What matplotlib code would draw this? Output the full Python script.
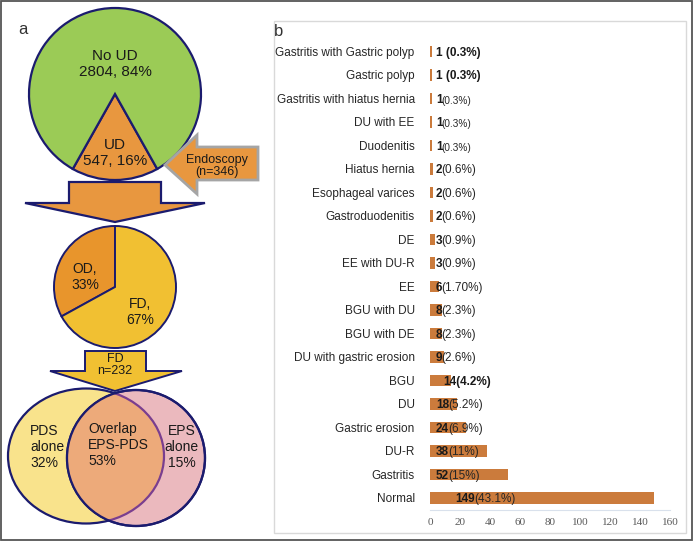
import numpy as np
import matplotlib.pyplot as plt
from matplotlib.patches import Ellipse, Polygon, Rectangle

plt.rcParams['font.family'] = ['Liberation Sans', 'DejaVu Sans']

# panel a data
ud_values = [547, 2804]          # UD, No UD
ud_text = ['UD\n547, 16%', 'No UD\n2804, 84%']
endoscopy_n = 346
od_fd = [33, 67]                 # OD, FD (%)
fd_n = 232
venn_pct = [32, 53, 15]          # PDS alone, overlap, EPS alone

# panel b data
categories = ['Gastritis with Gastric polyp', 'Gastric polyp', 'Gastritis with hiatus hernia',
              'DU with EE', 'Duodenitis', 'Hiatus hernia', 'Esophageal varices',
              'Gastroduodenitis', 'DE', 'EE with DU-R', 'EE', 'BGU with DU', 'BGU with DE',
              'DU with gastric erosion', 'BGU', 'DU', 'Gastric erosion', 'DU-R',
              'Gastritis', 'Normal']
counts = [1, 1, 1, 1, 1, 2, 2, 2, 3, 3, 6, 8, 8, 9, 14, 18, 24, 38, 52, 149]
pct_labels = [' (0.3%)', ' (0.3%)', '(0.3%)', '(0.3%)', '(0.3%)', '(0.6%)', '(0.6%)',
              '(0.6%)', '(0.9%)', '(0.9%)', '(1.70%)', '(2.3%)', '(2.3%)', '(2.6%)',
              '(4.2%)', '(5.2%)', '(6.9%)', '(11%)', '(15%)', '(43.1%)']
x_ticks = [0, 20, 40, 60, 80, 100, 120, 140, 160]

navy = '#1B1B6E'
orange = '#E8973F'
W, H = 694, 542

fig = plt.figure(figsize=(W / 100, H / 100), dpi=100)

# ---- panel a: drawn in pixel coordinates ----
ax = fig.add_axes([0, 0, 1, 1])

frac_ud = ud_values[0] / sum(ud_values)
ax.pie(ud_values, colors=[orange, '#9BCB56'], center=(115, 94), radius=86,
       startangle=90 - 180 * frac_ud, counterclock=True, frame=True,
       wedgeprops=dict(edgecolor=navy, linewidth=1.6))
ax.text(115, 64, ud_text[1], ha='center', va='center', fontsize=11, color='#1a1a1a', linespacing=1.15)
ax.text(115, 153, ud_text[0], ha='center', va='center', fontsize=11, color='#1a1a1a', linespacing=1.15)

# endoscopy arrow
ax.add_patch(Polygon([(165, 165), (197, 135), (197, 147), (258, 147), (258, 180),
                      (197, 180), (197, 194)], closed=True, facecolor=orange,
                     edgecolor='#A5A5A5', linewidth=2))
ax.text(217, 166, 'Endoscopy\n(n=%d)' % endoscopy_n, ha='center', va='center',
        fontsize=9, color='#1a1a1a', linespacing=1.1)

# big down arrow
ax.add_patch(Polygon([(69, 182), (161, 182), (161, 203), (205, 203), (115, 222),
                      (25, 203), (69, 203)], closed=True, facecolor=orange,
                     edgecolor=navy, linewidth=1.6, zorder=0.5))

# OD / FD pie
ax.pie(od_fd, colors=['#E8952C', '#F1C032'], center=(115, 287), radius=61,
       startangle=270, counterclock=False, frame=True,
       wedgeprops=dict(edgecolor=navy, linewidth=1.4))
ax.text(85, 277, 'OD,\n%d%%' % od_fd[0], ha='center', va='center', fontsize=10, color='#1a1a1a')
ax.text(140, 312, 'FD,\n%d%%' % od_fd[1], ha='center', va='center', fontsize=10, color='#1a1a1a')

# FD arrow
ax.add_patch(Polygon([(85, 351), (146, 351), (146, 371), (182, 371), (115, 391),
                      (50, 371), (85, 371)], closed=True, facecolor='#F1C032',
                     edgecolor=navy, linewidth=1.4, zorder=0.5))
ax.text(115, 365, 'FD\nn=%d' % fd_n, ha='center', va='center', fontsize=9,
        color='#1a1a1a', linespacing=1.1)

# venn
left = Ellipse((86, 456), 156, 135, facecolor='#F9E38C', edgecolor=navy, linewidth=1.6)
right = Ellipse((136, 458), 138, 136, facecolor='#EBB9BE', edgecolor=navy, linewidth=1.6)
ax.add_patch(left)
ax.add_patch(right)
overlap = Ellipse((86, 456), 156, 135, facecolor='#EDAA7A', edgecolor='#7A3E8F', linewidth=1.6)
ax.add_patch(overlap)
overlap.set_clip_path(right)
ax.add_patch(Ellipse((136, 458), 138, 136, facecolor='none', edgecolor=navy, linewidth=1.6))
ax.text(30, 447, 'PDS\nalone\n%d%%' % venn_pct[0], ha='left', va='center', fontsize=10,
        color='#1a1a1a', linespacing=1.2)
ax.text(88, 445, 'Overlap\nEPS-PDS\n%d%%' % venn_pct[1], ha='left', va='center', fontsize=10,
        color='#1a1a1a', linespacing=1.2)
ax.text(199, 447, 'EPS\nalone\n%d%%' % venn_pct[2], ha='right', va='center', fontsize=10,
        color='#1a1a1a', linespacing=1.2, multialignment='center')

ax.text(23, 30, 'a', ha='center', va='center', fontsize=12, color='#333333')
ax.text(279, 32, 'b', ha='center', va='center', fontsize=12, color='#333333')

# frames
ax.add_patch(Rectangle((1, 1), 691, 539, facecolor='none', edgecolor='#555555', linewidth=1.3))
ax.add_patch(Rectangle((274, 21), 412, 512, facecolor='none', edgecolor='#D9D9D9', linewidth=1))

ax.set_xlim(0, W)
ax.set_ylim(H, 0)
ax.axis('off')

# ---- panel b: bar chart ----
bx = fig.add_axes([430 / W, 1 - 509.75 / H, 240 / W, 470 / H])
bx.set_facecolor('none')
y = np.arange(len(categories))
bx.barh(y, counts, height=0.5, color='#CB7B3C')
bx.set_ylim(len(categories) - 0.5, -0.5)
bx.set_xlim(0, 160)
bx.set_yticks(y)
bx.set_yticklabels(categories, fontsize=8.5, color='#262626')
bx.set_xticks(x_ticks)
bx.set_xticklabels([str(t) for t in x_ticks], family='Liberation Serif', fontsize=8, color='#595959')
bx.tick_params(axis='both', length=0)
bx.tick_params(axis='y', pad=11)
bx.tick_params(axis='x', pad=6)
for s in ['top', 'right', 'left']:
    bx.spines[s].set_visible(False)
bx.spines['bottom'].set_color('#D9E1EC')

all_bold = {0, 1, 14}
small_pct = {2, 3, 4}
label_x = {14: 9, 19: 17}
for i, (c, p) in enumerate(zip(counts, pct_labels)):
    xpos = label_x.get(i, 4)
    if i in all_bold:
        bx.text(xpos, i, str(c) + p, fontweight='bold', ha='left', va='center_baseline',
                fontsize=8.5, color='#1a1a1a')
    else:
        t = bx.text(xpos, i, str(c), fontweight='bold', ha='left', va='center_baseline',
                    fontsize=8.5, color='#1a1a1a')
        bx.annotate(p, xy=(1, 0), xycoords=t, xytext=(-0.6, 0), textcoords='offset points',
                    ha='left', va='bottom',
                    fontsize=7.2 if i in small_pct else 8.5, color='#262626')

fig.savefig('out.png', dpi=100)
